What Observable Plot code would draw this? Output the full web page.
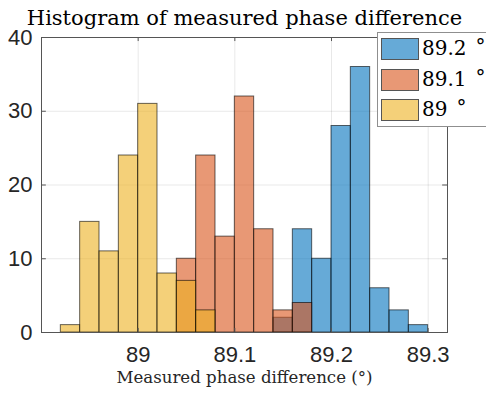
<!DOCTYPE html>
<html><head><meta charset="utf-8">
<script src="https://cdn.jsdelivr.net/npm/d3@7"></script>
<script src="https://cdn.jsdelivr.net/npm/@observablehq/plot@0.6"></script>
<style>
body{margin:0;background:#fff;overflow:hidden;}
#wrap{position:relative;width:486px;height:394px;overflow:hidden;}
#legend{position:absolute;left:377px;top:32px;width:130px;height:95px;background:#fff;border:1px solid #8f8f8f;box-sizing:border-box;}
.sw{position:absolute;left:3px;width:38px;height:22px;box-sizing:border-box;border:1px solid #555;}
.lt{position:absolute;left:44px;font-family:"DejaVu Serif",serif;font-size:20px;color:#000;white-space:nowrap;line-height:22px;}
.deg{display:inline-block;margin-left:9px;position:relative;top:-2px;}
</style>
</head><body>
<div id="wrap"></div>
<script>
const edges = [88.92,88.94,88.96,88.98,89.00,89.02,89.04,89.06,89.08,89.10,89.12,89.14,89.16,89.18,89.20,89.22,89.24,89.26,89.28,89.30];
const seriesNames = ["89.2", "89.1", "89"];
const seriesColors = ["#0072BD", "#D95319", "#EDB120"];
const counts892 = [0,0,0,0,0,0,0,0,0,0,0,2,14,10,28,36,6,3,1];
const counts891 = [0,0,0,0,0,0,10,24,13,32,14,3,4,0,0,0,0,0,0];
const counts89  = [1,15,11,24,31,8,7,3,0,0,0,0,0,0,0,0,0,0,0];
const xTicks = [89, 89.1, 89.2, 89.3];
const yTicks = [0, 10, 20, 30, 40];
const titleText = "Histogram of measured phase difference";
const xLabelText = "Measured phase difference (°)";

const allCounts = [counts892, counts891, counts89];
const data = [];
seriesNames.forEach((s, k) => {
  allCounts[k].forEach((c, i) => {
    if (c > 0) data.push({series: s, x1: edges[i], x2: edges[i + 1], count: c});
  });
});

const serif = "DejaVu Serif";
const chart = Plot.plot({
  width: 486, height: 394,
  marginLeft: 41, marginRight: 39, marginTop: 37, marginBottom: 62,
  style: {fontFamily: "Liberation Sans", fontSize: "22px", color: "#262626", background: "#fff"},
  x: {domain: [88.9, 89.32]},
  y: {domain: [0, 40]},
  color: {domain: seriesNames, range: seriesColors},
  marks: [
    Plot.gridX(xTicks, {stroke: "#000", strokeOpacity: 0.09}),
    Plot.gridY(yTicks, {stroke: "#000", strokeOpacity: 0.09}),
    Plot.rect(data, {x1: "x1", x2: "x2", y1: 0, y2: "count", fill: "series", fillOpacity: 0.6, stroke: "#000", strokeOpacity: 0.6, strokeWidth: 1}),
    Plot.axisX(xTicks, {tickSize: 0, tickPadding: 14, label: null, tickFormat: d => String(d)}),
    Plot.axisY(yTicks, {tickSize: 0, tickPadding: 9, label: null}),
    Plot.ruleX(xTicks, {x: d => d, y1: 0, y2: 0.55, stroke: "#555"}),
    Plot.ruleX(xTicks, {x: d => d, y1: 39.45, y2: 40, stroke: "#555"}),
    Plot.ruleY(yTicks, {y: d => d, x1: 89.315, x2: 89.32, stroke: "#555"}),
    Plot.ruleY(yTicks, {y: d => d, x1: 88.9, x2: 88.905, stroke: "#555"}),
    Plot.frame({stroke: "#555"}),
    Plot.text([titleText], {text: d => d, frameAnchor: "top", dy: -13, lineAnchor: "bottom", fontFamily: serif, fontSize: 21, fill: "#000"}),
    Plot.text([xLabelText], {text: d => d, frameAnchor: "bottom", dy: 39, lineAnchor: "top", fontFamily: serif, fontSize: 16.6, fill: "#262626"})
  ]
});
const wrap = document.getElementById("wrap");
wrap.appendChild(chart);

const legend = d3.select(wrap).append("div").attr("id", "legend");
seriesNames.forEach((s, k) => {
  const top = 5 + k * 30.5;
  legend.append("div").attr("class", "sw")
    .style("top", top + "px")
    .style("background", d3.interpolateRgb("#fff", seriesColors[k])(0.6));
  const t = legend.append("div").attr("class", "lt").style("top", (top - 1) + "px");
  t.append("span").text(s);
  t.append("span").attr("class", "deg").text("°");
});
</script>
</body></html>
